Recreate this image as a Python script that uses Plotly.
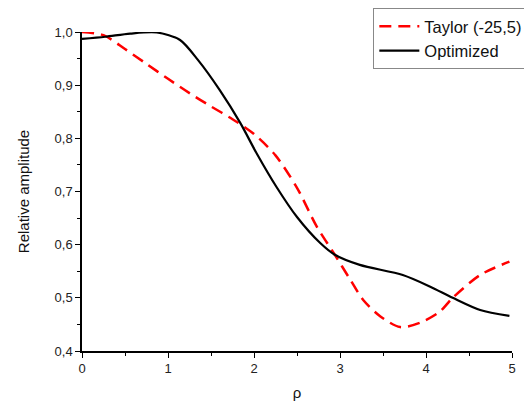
import plotly.graph_objects as go

rho_taylor = [0.0, 0.25, 0.5, 0.75, 1.0, 1.25, 1.5, 1.75, 2.0, 2.25, 2.5, 2.73, 2.94, 3.12, 3.27, 3.47, 3.70, 3.93, 4.16, 4.31, 4.63, 4.97]
amp_taylor = [1.0, 0.994, 0.968, 0.940, 0.912, 0.885, 0.860, 0.836, 0.808, 0.768, 0.707, 0.634, 0.581, 0.534, 0.496, 0.465, 0.445, 0.453, 0.474, 0.50, 0.543, 0.568]

rho_opt = [0.0, 0.27, 0.56, 0.87, 1.14, 1.35, 1.6, 1.84, 2.03, 2.26, 2.5, 2.77, 2.94, 3.23, 3.73, 4.05, 4.31, 4.63, 4.97]
amp_opt = [0.987, 0.991, 0.997, 0.999, 0.985, 0.947, 0.891, 0.829, 0.772, 0.709, 0.652, 0.603, 0.581, 0.562, 0.543, 0.521, 0.50, 0.477, 0.466]

x_ticks = [0, 1, 2, 3, 4, 5]
y_ticks = [0.4, 0.5, 0.6, 0.7, 0.8, 0.9, 1.0]

fig = go.Figure()
fig.add_trace(go.Scatter(x=rho_taylor, y=amp_taylor, mode="lines", name="Taylor (-25,5)",
                         line=dict(color="#ff0000", width=2.5, dash="12px,7px", shape="spline", smoothing=0.8),
                         cliponaxis=False))
fig.add_trace(go.Scatter(x=rho_opt, y=amp_opt, mode="lines", name="Optimized",
                         line=dict(color="#000000", width=2.2, shape="spline", smoothing=0.8),
                         cliponaxis=False))

axis_common = dict(showline=True, linecolor="black", linewidth=1.5, ticks="outside",
                   ticklen=5, tickwidth=1.3, tickcolor="black", showgrid=False, zeroline=False,
                   mirror=False, automargin=False,
                   tickfont=dict(size=13, color="#222", family="Liberation Sans, Arial"))

# page body has an 8px default margin; figure sized/offset to compensate
fig.update_layout(
    width=524, height=399,
    margin=dict(l=74, r=20, t=24, b=56, autoexpand=False),
    paper_bgcolor="white", plot_bgcolor="white",
    separators=", ",
    font=dict(family="Liberation Sans, Arial", color="#111"),
    xaxis=dict(range=[0, 5], tickvals=x_ticks, ticktext=[str(v) for v in x_ticks],
               minor=dict(dtick=0.5, ticks="outside", ticklen=3, tickwidth=1.2, tickcolor="black"),
               title=dict(text="ρ", font=dict(size=15), standoff=12),
               **axis_common),
    yaxis=dict(range=[0.4, 1.0], tickvals=y_ticks, tickformat=".1f",
               minor=dict(dtick=0.05, ticks="outside", ticklen=3, tickwidth=1.2, tickcolor="black"),
               title=dict(text="Relative amplitude", font=dict(size=15), standoff=21),
               **axis_common),
    legend=dict(xref="container", yref="container", x=0.993, y=1.0, xanchor="right", yanchor="top",
                bordercolor="#888", borderwidth=1, bgcolor="white",
                font=dict(size=16.5, color="#111"), tracegroupgap=0,
                itemwidth=40),
    showlegend=True,
)

fig.write_html("out.html")
